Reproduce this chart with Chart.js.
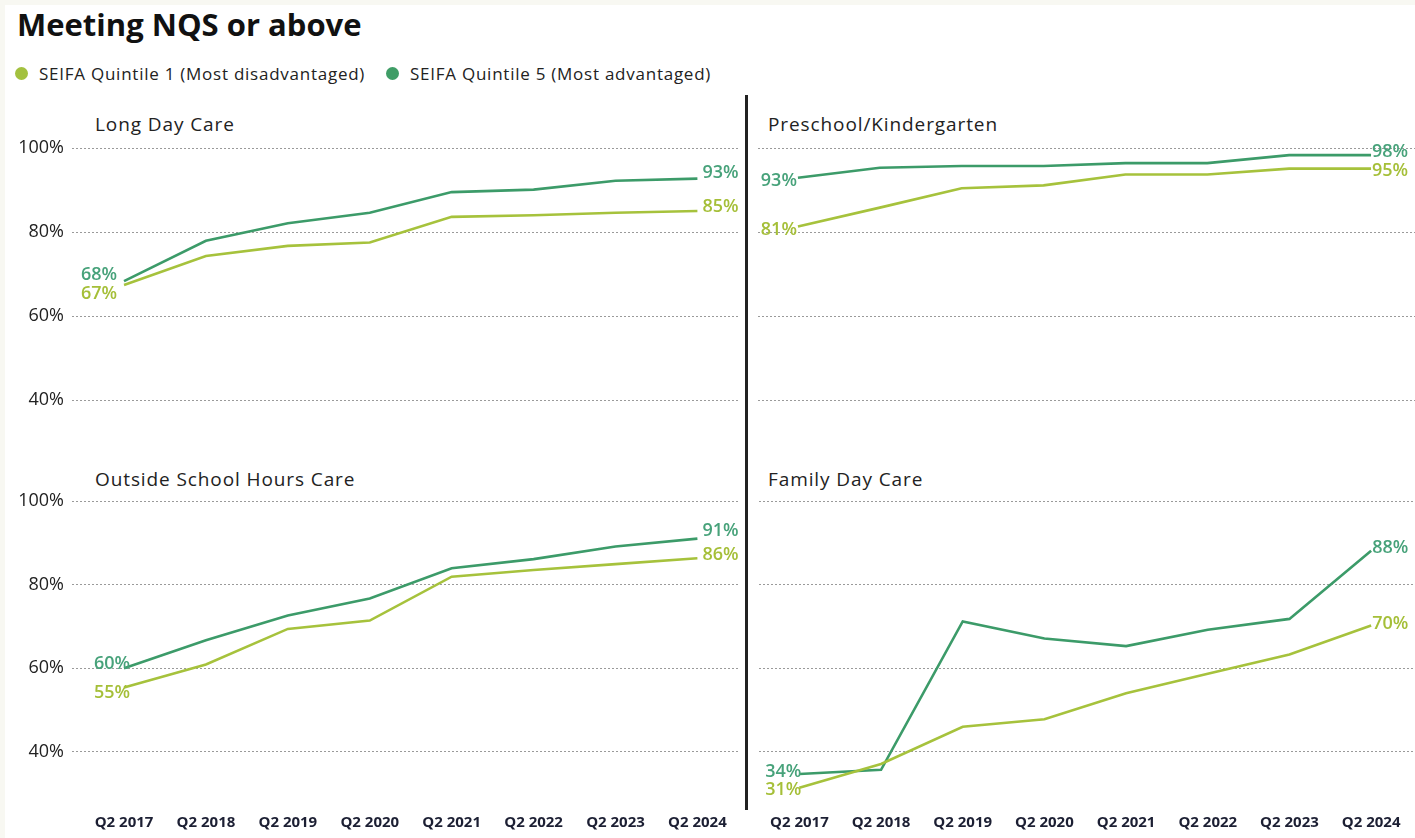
<!DOCTYPE html>
<html>
<head>
<meta charset="utf-8">
<script src="https://cdn.jsdelivr.net/npm/chart.js@4.4.1/dist/chart.umd.min.js"></script>
<style>
  html,body{margin:0;padding:0;background:#f8f8f2;}
  #page{position:absolute;left:5px;top:5px;width:1410px;height:833px;background:#fff;overflow:hidden;}
  .abs{position:absolute;}
  #title{left:12px;top:-2px;font-family:"Open Sans",sans-serif;font-weight:700;font-size:31px;color:#111;letter-spacing:0px;}
  .leg{top:57px;font-family:"Open Sans",sans-serif;font-size:17px;color:#222;display:flex;align-items:center;letter-spacing:0.75px;}
  .dot{width:13px;height:13px;border-radius:50%;margin-right:11px;display:inline-block;}
  .ptitle{font-family:"Open Sans",sans-serif;font-size:19px;color:#222;letter-spacing:0.9px;}
  canvas{position:absolute;}
  #divider{left:740px;top:90px;width:2.5px;height:715px;background:#222;}
</style>
</head>
<body>
<div id="page">
  <div id="title" class="abs">Meeting NQS or above</div>
  <div class="abs leg" style="left:10px;"><span class="dot" style="background:#a3c13f"></span><span id="leg1"></span></div>
  <div class="abs leg" style="left:381px;"><span class="dot" style="background:#3f9d66"></span><span id="leg2"></span></div>
  <div class="abs ptitle" style="left:90px;top:106px;">Long Day Care</div>
  <div class="abs ptitle" style="left:763px;top:106px;">Preschool/Kindergarten</div>
  <div class="abs ptitle" style="left:90px;top:461px;">Outside School Hours Care</div>
  <div class="abs ptitle" style="left:763px;top:461px;">Family Day Care</div>
  <div id="divider" class="abs"></div>
  <canvas id="c1"></canvas>
  <canvas id="c2"></canvas>
  <canvas id="c3"></canvas>
  <canvas id="c4"></canvas>
</div>
<script>
// ---------- DATA ----------
const categories = ["Q2 2017","Q2 2018","Q2 2019","Q2 2020","Q2 2021","Q2 2022","Q2 2023","Q2 2024"];
const seriesNames = ["SEIFA Quintile 1 (Most disadvantaged)","SEIFA Quintile 5 (Most advantaged)"];
const yTickValues = [40,60,80,100];

const ldcQ1  = [67.4, 74.3, 76.7, 77.5, 83.6, 84.0, 84.6, 85.0];
const ldcQ5  = [68.3, 77.9, 82.1, 84.6, 89.5, 90.1, 92.2, 92.7];
const pkQ1   = [81.3, 85.8, 90.4, 91.1, 93.7, 93.7, 95.1, 95.1];
const pkQ5   = [92.9, 95.3, 95.7, 95.7, 96.4, 96.4, 98.3, 98.3];
const oshcQ1 = [55.4, 60.9, 69.4, 71.4, 81.9, 83.5, 84.9, 86.3];
const oshcQ5 = [60.0, 66.7, 72.6, 76.7, 83.9, 86.1, 89.1, 91.0];
const fdcQ1  = [31.4, 37.1, 46.0, 47.8, 54.0, 58.7, 63.3, 70.2];
const fdcQ5  = [34.7, 35.7, 71.2, 67.1, 65.3, 69.2, 71.8, 88.1];

const startLabels = {ldc:["67%","68%"], pk:["81%","93%"], oshc:["55%","60%"], fdc:["31%","34%"]};
const endLabels   = {ldc:["85%","93%"], pk:["95%","98%"], oshc:["86%","91%"], fdc:["70%","88%"]};

// ---------- STYLE ----------
document.getElementById('leg1').textContent = seriesNames[0];
document.getElementById('leg2').textContent = seriesNames[1];
const lineCol = ["#a6c23c","#3c9b69"];
const textCol = ["#a5bf38","#47a27a"];

const labelPlugin = {
  id:'endLabels',
  afterDatasetsDraw(chart, args, opts){
    const ctx = chart.ctx;
    ctx.save();
    // y tick labels, placed by the library's y scale
    if (opts.showY) {
      const ys = chart.scales.y;
      ctx.font = '18px "Open Sans", sans-serif';
      ctx.fillStyle = '#222';
      ctx.textAlign = 'right';
      ctx.textBaseline = 'middle';
      yTickValues.forEach(v => ctx.fillText(v + '%', chart.chartArea.left - 8, ys.getPixelForValue(v)));
    }
    ctx.font = '600 18px "Open Sans", sans-serif';
    ctx.textBaseline = 'middle';
    chart.data.datasets.forEach((ds, i) => {
      const meta = chart.getDatasetMeta(i);
      const p0 = meta.data[0], pN = meta.data[meta.data.length-1];
      ctx.fillStyle = textCol[i];
      ctx.textAlign = 'right';
      ctx.fillText(opts.start[i], p0.x + opts.sdx, p0.y + opts.sdy[i]);
      ctx.textAlign = 'left';
      ctx.fillText(opts.end[i], pN.x + opts.edx, pN.y + opts.edy[i]);
    });
    ctx.restore();
  }
};

function makeChart(id, pos, q1, q5, key, cfg){
  const cv = document.getElementById(id);
  cv.style.left = pos.left + 'px';
  cv.style.top = pos.top + 'px';
  cv.width = pos.w; cv.height = pos.h;
  cv.style.width = pos.w + 'px'; cv.style.height = pos.h + 'px';
  new Chart(cv, {
    type:'line',
    data:{
      datasets:[
        {label:seriesNames[0], data:q1.map((v,i)=>({x:i,y:v})), borderColor:lineCol[0], borderWidth:2.6, pointRadius:0, tension:0, clip:false},
        {label:seriesNames[1], data:q5.map((v,i)=>({x:i,y:v})), borderColor:lineCol[1], borderWidth:2.6, pointRadius:0, tension:0, clip:false}
      ]
    },
    options:{
      responsive:false, animation:false,
      layout:{autoPadding:false, padding:{top:8,left:0,right:0,bottom:0}},
      plugins:{legend:{display:false}, tooltip:{enabled:false},
        endLabels:{showY:cfg.showY, start:startLabels[key], end:endLabels[key], sdx:cfg.sdx, sdy:cfg.sdy, edx:cfg.edx, edy:cfg.edy}},
      scales:{
        x:{type:'linear', min:cfg.xmin, max:cfg.xmax, display:cfg.showX,
           grid:{display:false, drawTicks:false}, border:{display:false},
           afterBuildTicks:(s)=>{s.ticks = categories.map((c,i)=>({value:i}));},
           afterFit:(s)=>{ if(cfg.showX) s.height = 36; },
           ticks:{padding:12, color:'#1c1f33', font:{family:'"Open Sans", sans-serif', size:15, weight:'bold'},
                  maxRotation:0, autoSkip:false, callback:(v)=>categories[v]}},
        y:{min:cfg.ymin, max:100,
           afterBuildTicks:(s)=>{s.ticks = yTickValues.map(v=>({value:v}));},
           afterFit:(s)=>{ s.width = cfg.yw; },
           grid:{color:'#9a9a9a', lineWidth:1, drawTicks:false},
           border:{display:false, dash:[2,2]},
           ticks:{display:false}}
      }
    },
    plugins:[labelPlugin]
  });
}

const leftX = {xmin:-0.635, xmax:7.52};
const rightX = {xmin:-0.488, xmax:7.537};

makeChart('c1', {left:0, top:135, w:735, h:281}, ldcQ1, ldcQ5, 'ldc',
  {...leftX, ymin:35, showX:false, showY:true, yw:67, sdx:-7, sdy:[9,-6], edx:5, edy:[-4,-6]});
makeChart('c2', {left:753, top:135, w:657, h:281}, pkQ1, pkQ5, 'pk',
  {...rightX, ymin:35, showX:false, showY:false, yw:0, sdx:-1, sdy:[3,3], edx:1, edy:[2,-3]});
makeChart('c3', {left:0, top:488, w:735, h:345}, oshcQ1, oshcQ5, 'oshc',
  {...leftX, ymin:28, showX:true, showY:true, yw:67, sdx:6, sdy:[5,-4], edx:5, edy:[-3,-8]});
makeChart('c4', {left:753, top:488, w:657, h:345}, fdcQ1, fdcQ5, 'fdc',
  {...rightX, ymin:28, showX:true, showY:false, yw:0, sdx:2, sdy:[2,-2], edx:1, edy:[-2,-3]});
</script>
</body>
</html>
